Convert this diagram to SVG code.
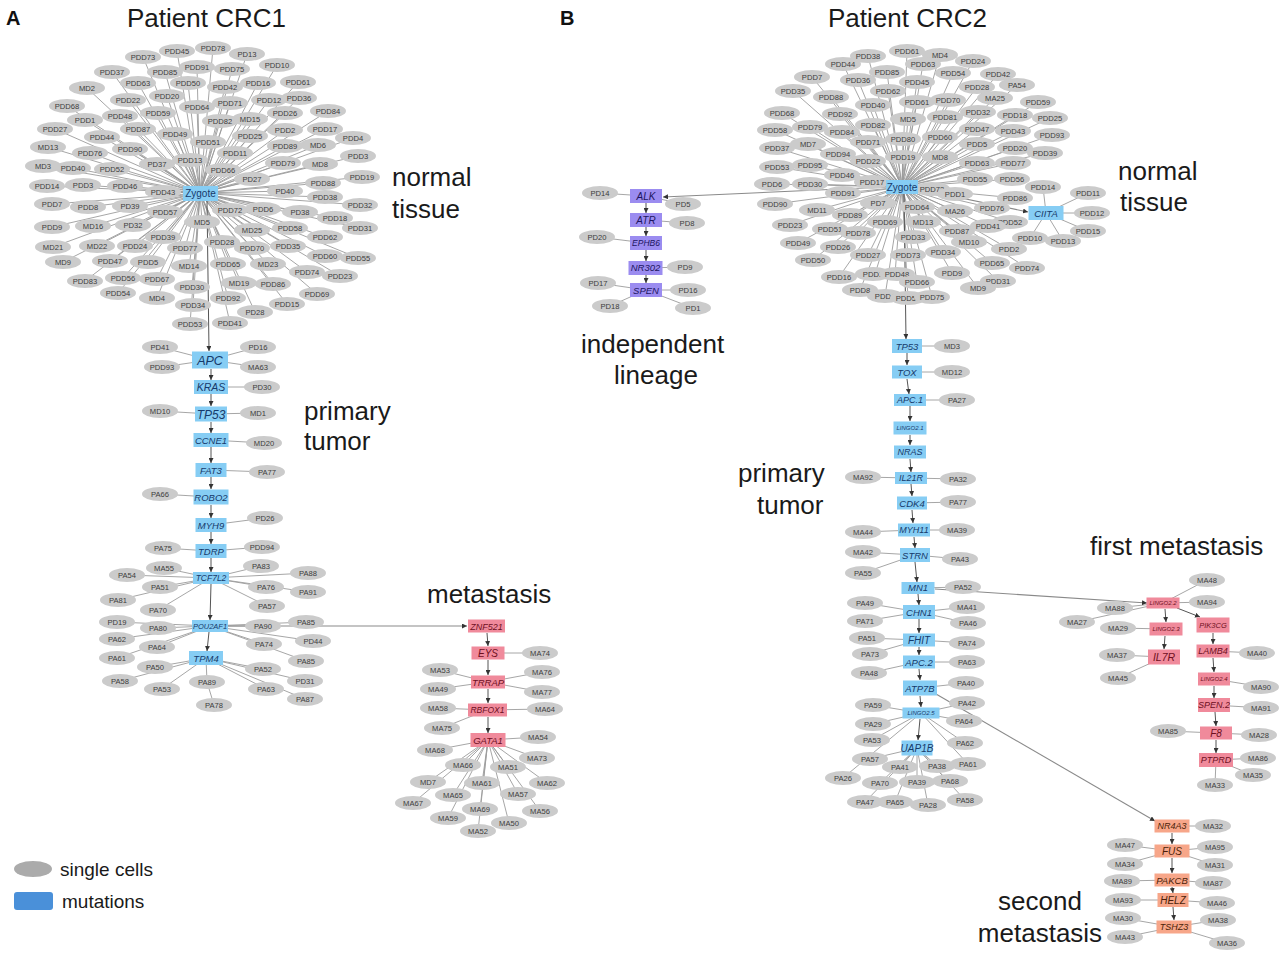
<svg xmlns="http://www.w3.org/2000/svg" width="1280" height="954" viewBox="0 0 1280 954">
<style>
.c ellipse{fill:#cbcbcb}
.c text{font-family:"Liberation Sans",Arial,sans-serif;font-size:7.6px;fill:#3c3c3c;text-anchor:middle}
.m text,.p text,.v text,.o text{font-family:"Liberation Sans",Arial,sans-serif;font-style:italic;text-anchor:middle}
.m rect{fill:#86cdf4}.m text{fill:#163a6b}
.p rect{fill:#f08a9b}.p text{fill:#6e0f1e}
.v rect{fill:#9b8cf0}.v text{fill:#1d1560}
.o rect{fill:#f7a689}.o text{fill:#4a1e08}
.z rect{fill:#86cdf4}.z text{font-family:"Liberation Sans",Arial,sans-serif;font-size:10px;fill:#163a6b;text-anchor:middle}
#connectors line{stroke:#9c9c9c;stroke-width:0.9}
#connectors .ar{stroke:#555;stroke-width:1;marker-end:url(#ah)}
#connectors .lg{stroke:#8a8a8a;stroke-width:1.1;marker-end:url(#ah)}
.lab{font-family:"Liberation Sans",Arial,sans-serif;font-size:26px;fill:#1a1a1a}
.leg{font-family:"Liberation Sans",Arial,sans-serif;font-size:19px;fill:#1a1a1a}
</style>
<defs>
<marker id="ah" viewBox="0 0 6 6" refX="6" refY="3" markerWidth="5" markerHeight="5" orient="auto" markerUnits="userSpaceOnUse"><path d="M0,0L6,3L0,6z" fill="#333"/></marker>
</defs>
<rect width="1280" height="954" fill="#fff"/>

<g id="connectors">
<!-- CRC1 cloud -->
<line x1="143" y1="57" x2="200" y2="193"/><line x1="177" y1="51" x2="200" y2="193"/><line x1="213" y1="48" x2="200" y2="193"/><line x1="247" y1="54" x2="200" y2="193"/><line x1="112" y1="72" x2="200" y2="193"/><line x1="165" y1="72" x2="200" y2="193"/><line x1="197" y1="67" x2="200" y2="193"/><line x1="232" y1="69" x2="200" y2="193"/><line x1="277" y1="65" x2="200" y2="193"/><line x1="87" y1="88" x2="200" y2="193"/><line x1="138" y1="83" x2="200" y2="193"/><line x1="188" y1="83" x2="200" y2="193"/><line x1="225" y1="87" x2="200" y2="193"/><line x1="258" y1="83" x2="200" y2="193"/><line x1="298" y1="82" x2="200" y2="193"/><line x1="67" y1="106" x2="200" y2="193"/><line x1="128" y1="100" x2="200" y2="193"/><line x1="167" y1="96" x2="200" y2="193"/><line x1="197" y1="107" x2="200" y2="193"/><line x1="230" y1="103" x2="200" y2="193"/><line x1="269" y1="100" x2="200" y2="193"/><line x1="299" y1="98" x2="200" y2="193"/><line x1="85" y1="120" x2="200" y2="193"/><line x1="120" y1="116" x2="200" y2="193"/><line x1="158" y1="113" x2="200" y2="193"/><line x1="220" y1="121" x2="200" y2="193"/><line x1="250" y1="119" x2="200" y2="193"/><line x1="285" y1="113" x2="200" y2="193"/><line x1="328" y1="111" x2="200" y2="193"/><line x1="55" y1="129" x2="200" y2="193"/><line x1="138" y1="129" x2="200" y2="193"/><line x1="175" y1="134" x2="200" y2="193"/><line x1="250" y1="136" x2="200" y2="193"/><line x1="285" y1="130" x2="200" y2="193"/><line x1="325" y1="129" x2="200" y2="193"/><line x1="102" y1="137" x2="200" y2="193"/><line x1="208" y1="142" x2="200" y2="193"/><line x1="285" y1="146" x2="200" y2="193"/><line x1="318" y1="145" x2="200" y2="193"/><line x1="353" y1="138" x2="200" y2="193"/><line x1="48" y1="147" x2="200" y2="193"/><line x1="90" y1="153" x2="200" y2="193"/><line x1="130" y1="149" x2="200" y2="193"/><line x1="235" y1="153" x2="200" y2="193"/><line x1="358" y1="156" x2="200" y2="193"/><line x1="43" y1="166" x2="200" y2="193"/><line x1="73" y1="168" x2="200" y2="193"/><line x1="112" y1="169" x2="200" y2="193"/><line x1="157" y1="164" x2="200" y2="193"/><line x1="190" y1="160" x2="200" y2="193"/><line x1="223" y1="170" x2="200" y2="193"/><line x1="283" y1="163" x2="200" y2="193"/><line x1="320" y1="164" x2="200" y2="193"/><line x1="47" y1="186" x2="200" y2="193"/><line x1="83" y1="185" x2="200" y2="193"/><line x1="125" y1="186" x2="200" y2="193"/><line x1="163" y1="192" x2="200" y2="193"/><line x1="252" y1="179" x2="200" y2="193"/><line x1="285" y1="191" x2="200" y2="193"/><line x1="323" y1="183" x2="200" y2="193"/><line x1="362" y1="177" x2="200" y2="193"/><line x1="325" y1="197" x2="200" y2="193"/><line x1="52" y1="204" x2="200" y2="193"/><line x1="88" y1="207" x2="200" y2="193"/><line x1="130" y1="206" x2="200" y2="193"/><line x1="165" y1="212" x2="200" y2="193"/><line x1="230" y1="210" x2="200" y2="193"/><line x1="263" y1="209" x2="200" y2="193"/><line x1="300" y1="212" x2="200" y2="193"/><line x1="360" y1="205" x2="200" y2="193"/><line x1="335" y1="218" x2="200" y2="193"/><line x1="360" y1="228" x2="200" y2="193"/><line x1="52" y1="227" x2="200" y2="193"/><line x1="93" y1="226" x2="200" y2="193"/><line x1="133" y1="225" x2="200" y2="193"/><line x1="202" y1="222" x2="200" y2="193"/><line x1="252" y1="230" x2="200" y2="193"/><line x1="290" y1="228" x2="200" y2="193"/><line x1="325" y1="237" x2="200" y2="193"/><line x1="163" y1="237" x2="200" y2="193"/><line x1="53" y1="247" x2="200" y2="193"/><line x1="97" y1="246" x2="200" y2="193"/><line x1="135" y1="246" x2="200" y2="193"/><line x1="185" y1="248" x2="200" y2="193"/><line x1="222" y1="242" x2="200" y2="193"/><line x1="252" y1="248" x2="200" y2="193"/><line x1="288" y1="246" x2="200" y2="193"/><line x1="325" y1="256" x2="200" y2="193"/><line x1="358" y1="258" x2="200" y2="193"/><line x1="63" y1="262" x2="200" y2="193"/><line x1="110" y1="261" x2="200" y2="193"/><line x1="148" y1="262" x2="200" y2="193"/><line x1="189" y1="266" x2="200" y2="193"/><line x1="228" y1="264" x2="200" y2="193"/><line x1="268" y1="264" x2="200" y2="193"/><line x1="307" y1="272" x2="200" y2="193"/><line x1="340" y1="276" x2="200" y2="193"/><line x1="85" y1="281" x2="200" y2="193"/><line x1="123" y1="278" x2="200" y2="193"/><line x1="157" y1="279" x2="200" y2="193"/><line x1="192" y1="287" x2="200" y2="193"/><line x1="239" y1="283" x2="200" y2="193"/><line x1="273" y1="284" x2="200" y2="193"/><line x1="317" y1="294" x2="200" y2="193"/><line x1="118" y1="293" x2="200" y2="193"/><line x1="157" y1="298" x2="200" y2="193"/><line x1="228" y1="298" x2="200" y2="193"/><line x1="287" y1="304" x2="200" y2="193"/><line x1="193" y1="305" x2="200" y2="193"/><line x1="255" y1="312" x2="200" y2="193"/><line x1="190" y1="324" x2="200" y2="193"/><line x1="230" y1="323" x2="200" y2="193"/>
<!-- CRC1 chain cells -->
<line x1="160" y1="347" x2="210" y2="360"/><line x1="258" y1="347" x2="210" y2="360"/><line x1="162" y1="367" x2="210" y2="360"/><line x1="258" y1="367" x2="210" y2="360"/>
<line x1="262" y1="387" x2="211" y2="387"/><line x1="160" y1="411" x2="211" y2="414"/><line x1="258" y1="413" x2="211" y2="414"/><line x1="264" y1="443" x2="211" y2="440"/><line x1="267" y1="472" x2="211" y2="470"/><line x1="160" y1="494" x2="211" y2="497"/><line x1="265" y1="518" x2="211" y2="525"/><line x1="163" y1="548" x2="211" y2="551"/><line x1="262" y1="547" x2="211" y2="551"/>
<line x1="164" y1="568" x2="211" y2="578"/><line x1="261" y1="566" x2="211" y2="578"/><line x1="127" y1="575" x2="211" y2="578"/><line x1="308" y1="573" x2="211" y2="578"/><line x1="160" y1="587" x2="211" y2="578"/><line x1="266" y1="587" x2="211" y2="578"/><line x1="308" y1="592" x2="211" y2="578"/><line x1="118" y1="600" x2="211" y2="578"/><line x1="267" y1="606" x2="211" y2="578"/><line x1="158" y1="610" x2="211" y2="578"/>
<line x1="117" y1="622" x2="210" y2="626"/><line x1="158" y1="628" x2="210" y2="626"/><line x1="263" y1="626" x2="210" y2="626"/><line x1="306" y1="622" x2="210" y2="626"/><line x1="313" y1="641" x2="210" y2="626"/><line x1="117" y1="639" x2="210" y2="626"/><line x1="157" y1="647" x2="210" y2="626"/><line x1="264" y1="644" x2="210" y2="626"/><line x1="117" y1="658" x2="210" y2="626"/><line x1="306" y1="661" x2="210" y2="626"/>
<line x1="155" y1="667" x2="206" y2="658"/><line x1="263" y1="669" x2="206" y2="658"/><line x1="120" y1="681" x2="206" y2="658"/><line x1="162" y1="689" x2="206" y2="658"/><line x1="207" y1="682" x2="206" y2="658"/><line x1="305" y1="681" x2="206" y2="658"/><line x1="266" y1="689" x2="206" y2="658"/><line x1="305" y1="699" x2="206" y2="658"/><line x1="214" y1="705" x2="207" y2="682"/>
<!-- CRC1 metastasis cells -->
<line x1="540" y1="653" x2="488" y2="653"/><line x1="440" y1="670" x2="488" y2="682"/><line x1="542" y1="672" x2="488" y2="682"/><line x1="438" y1="689" x2="488" y2="682"/><line x1="542" y1="692" x2="488" y2="682"/><line x1="438" y1="708" x2="487" y2="710"/><line x1="545" y1="709" x2="487" y2="710"/><line x1="442" y1="728" x2="487" y2="710"/>
<line x1="538" y1="737" x2="488" y2="740"/><line x1="435" y1="750" x2="488" y2="740"/><line x1="463" y1="765" x2="488" y2="740"/><line x1="537" y1="758" x2="488" y2="740"/><line x1="508" y1="767" x2="488" y2="740"/><line x1="428" y1="782" x2="488" y2="740"/><line x1="482" y1="783" x2="488" y2="740"/><line x1="547" y1="783" x2="488" y2="740"/><line x1="453" y1="795" x2="488" y2="740"/><line x1="518" y1="794" x2="488" y2="740"/><line x1="413" y1="803" x2="488" y2="740"/><line x1="480" y1="809" x2="488" y2="740"/><line x1="540" y1="811" x2="488" y2="740"/><line x1="448" y1="818" x2="488" y2="740"/><line x1="478" y1="831" x2="488" y2="740"/><line x1="509" y1="823" x2="488" y2="740"/>
<!-- CRC1 arrows -->
<line class="ar" x1="207" y1="201" x2="209" y2="351"/>
<line class="ar" x1="211" y1="369" x2="211" y2="380"/><line class="ar" x1="211" y1="394" x2="211" y2="406"/><line class="ar" x1="211" y1="422" x2="211" y2="433"/><line class="ar" x1="211" y1="447" x2="211" y2="463"/><line class="ar" x1="211" y1="477" x2="211" y2="489"/><line class="ar" x1="211" y1="505" x2="211" y2="518"/><line class="ar" x1="211" y1="532" x2="211" y2="544"/><line class="ar" x1="211" y1="558" x2="211" y2="572"/><line class="ar" x1="211" y1="584" x2="210" y2="620"/><line class="ar" x1="209" y1="632" x2="207" y2="651"/>
<line class="lg" x1="228" y1="626" x2="467" y2="626"/>
<line class="ar" x1="487" y1="633" x2="488" y2="646"/><line class="ar" x1="488" y1="660" x2="488" y2="675"/><line class="ar" x1="488" y1="689" x2="488" y2="703"/><line class="ar" x1="488" y1="717" x2="488" y2="733"/>

<!-- CRC2 cloud -->
<line x1="907" y1="51" x2="902" y2="187"/><line x1="940" y1="55" x2="902" y2="187"/><line x1="868" y1="56" x2="902" y2="187"/><line x1="973" y1="61" x2="902" y2="187"/><line x1="843" y1="64" x2="902" y2="187"/><line x1="923" y1="64" x2="902" y2="187"/><line x1="887" y1="72" x2="902" y2="187"/><line x1="953" y1="73" x2="902" y2="187"/><line x1="998" y1="74" x2="902" y2="187"/><line x1="812" y1="77" x2="902" y2="187"/><line x1="858" y1="80" x2="902" y2="187"/><line x1="917" y1="82" x2="902" y2="187"/><line x1="977" y1="87" x2="902" y2="187"/><line x1="1017" y1="85" x2="902" y2="187"/><line x1="793" y1="91" x2="902" y2="187"/><line x1="888" y1="91" x2="902" y2="187"/><line x1="831" y1="97" x2="902" y2="187"/><line x1="948" y1="100" x2="902" y2="187"/><line x1="995" y1="98" x2="902" y2="187"/><line x1="1038" y1="102" x2="902" y2="187"/><line x1="873" y1="105" x2="902" y2="187"/><line x1="917" y1="102" x2="902" y2="187"/><line x1="782" y1="113" x2="902" y2="187"/><line x1="840" y1="114" x2="902" y2="187"/><line x1="978" y1="112" x2="902" y2="187"/><line x1="1015" y1="115" x2="902" y2="187"/><line x1="908" y1="119" x2="902" y2="187"/><line x1="945" y1="117" x2="902" y2="187"/><line x1="1050" y1="118" x2="902" y2="187"/><line x1="775" y1="130" x2="902" y2="187"/><line x1="810" y1="127" x2="902" y2="187"/><line x1="873" y1="125" x2="902" y2="187"/><line x1="842" y1="132" x2="902" y2="187"/><line x1="977" y1="129" x2="902" y2="187"/><line x1="1013" y1="131" x2="902" y2="187"/><line x1="1052" y1="135" x2="902" y2="187"/><line x1="777" y1="148" x2="902" y2="187"/><line x1="808" y1="144" x2="902" y2="187"/><line x1="868" y1="142" x2="902" y2="187"/><line x1="903" y1="139" x2="902" y2="187"/><line x1="940" y1="137" x2="902" y2="187"/><line x1="977" y1="144" x2="902" y2="187"/><line x1="1015" y1="148" x2="902" y2="187"/><line x1="1045" y1="153" x2="902" y2="187"/><line x1="838" y1="154" x2="902" y2="187"/><line x1="903" y1="157" x2="902" y2="187"/><line x1="940" y1="157" x2="902" y2="187"/><line x1="977" y1="163" x2="902" y2="187"/><line x1="1013" y1="163" x2="902" y2="187"/><line x1="777" y1="167" x2="902" y2="187"/><line x1="810" y1="165" x2="902" y2="187"/><line x1="868" y1="161" x2="902" y2="187"/><line x1="842" y1="175" x2="902" y2="187"/><line x1="975" y1="179" x2="902" y2="187"/><line x1="1012" y1="179" x2="902" y2="187"/><line x1="872" y1="182" x2="902" y2="187"/><line x1="928" y1="189" x2="902" y2="187"/><line x1="772" y1="184" x2="902" y2="187"/><line x1="810" y1="184" x2="902" y2="187"/><line x1="843" y1="193" x2="902" y2="187"/><line x1="953" y1="193" x2="902" y2="187"/><line x1="1015" y1="198" x2="902" y2="187"/><line x1="775" y1="204" x2="902" y2="187"/><line x1="817" y1="210" x2="902" y2="187"/><line x1="878" y1="203" x2="902" y2="187"/><line x1="917" y1="207" x2="902" y2="187"/><line x1="955" y1="211" x2="902" y2="187"/><line x1="992" y1="208" x2="902" y2="187"/><line x1="850" y1="215" x2="902" y2="187"/><line x1="1010" y1="222" x2="902" y2="187"/><line x1="790" y1="225" x2="902" y2="187"/><line x1="885" y1="222" x2="902" y2="187"/><line x1="923" y1="222" x2="902" y2="187"/><line x1="830" y1="229" x2="902" y2="187"/><line x1="858" y1="233" x2="902" y2="187"/><line x1="957" y1="231" x2="902" y2="187"/><line x1="988" y1="226" x2="902" y2="187"/><line x1="798" y1="243" x2="902" y2="187"/><line x1="913" y1="237" x2="902" y2="187"/><line x1="969" y1="242" x2="902" y2="187"/><line x1="1009" y1="249" x2="902" y2="187"/><line x1="838" y1="247" x2="902" y2="187"/><line x1="813" y1="260" x2="902" y2="187"/><line x1="868" y1="255" x2="902" y2="187"/><line x1="908" y1="255" x2="902" y2="187"/><line x1="943" y1="252" x2="902" y2="187"/><line x1="992" y1="263" x2="902" y2="187"/><line x1="1027" y1="268" x2="902" y2="187"/><line x1="839" y1="277" x2="902" y2="187"/><line x1="875" y1="274" x2="902" y2="187"/><line x1="895" y1="274" x2="902" y2="187"/><line x1="917" y1="282" x2="902" y2="187"/><line x1="952" y1="273" x2="902" y2="187"/><line x1="998" y1="281" x2="902" y2="187"/><line x1="860" y1="290" x2="902" y2="187"/><line x1="885" y1="296" x2="902" y2="187"/><line x1="908" y1="298" x2="902" y2="187"/><line x1="932" y1="297" x2="902" y2="187"/><line x1="978" y1="288" x2="902" y2="187"/>
<!-- CIITA cells -->
<line x1="1043" y1="187" x2="1046" y2="213"/><line x1="1088" y1="193" x2="1046" y2="213"/><line x1="1092" y1="213" x2="1046" y2="213"/><line x1="1088" y1="231" x2="1046" y2="213"/><line x1="1063" y1="241" x2="1046" y2="213"/><line x1="1030" y1="238" x2="1046" y2="213"/>
<!-- lineage cells -->
<line x1="600" y1="193" x2="646" y2="196"/><line x1="683" y1="204" x2="646" y2="196"/><line x1="687" y1="223" x2="646" y2="220"/><line x1="597" y1="237" x2="646" y2="243"/><line x1="685" y1="267" x2="645" y2="268"/><line x1="598" y1="283" x2="646" y2="290"/><line x1="688" y1="290" x2="646" y2="290"/><line x1="610" y1="306" x2="646" y2="290"/><line x1="693" y1="308" x2="646" y2="290"/>
<!-- CRC2 chain cells -->
<line x1="952" y1="346" x2="907" y2="346"/><line x1="952" y1="372" x2="907" y2="372"/><line x1="957" y1="400" x2="910" y2="400"/><line x1="863" y1="477" x2="911" y2="478"/><line x1="958" y1="479" x2="911" y2="478"/><line x1="958" y1="502" x2="912" y2="503"/><line x1="863" y1="532" x2="914" y2="530"/><line x1="957" y1="530" x2="914" y2="530"/><line x1="863" y1="552" x2="915" y2="555"/><line x1="960" y1="559" x2="915" y2="555"/><line x1="863" y1="573" x2="915" y2="555"/>
<line x1="963" y1="587" x2="918" y2="588"/><line x1="865" y1="603" x2="919" y2="612"/><line x1="967" y1="607" x2="919" y2="612"/><line x1="865" y1="621" x2="919" y2="612"/><line x1="968" y1="623" x2="919" y2="612"/><line x1="867" y1="638" x2="919" y2="640"/><line x1="967" y1="643" x2="919" y2="640"/><line x1="870" y1="654" x2="919" y2="640"/><line x1="967" y1="662" x2="919" y2="662"/><line x1="869" y1="673" x2="919" y2="662"/><line x1="966" y1="683" x2="920" y2="688"/>
<line x1="873" y1="705" x2="921" y2="713"/><line x1="967" y1="703" x2="921" y2="713"/><line x1="964" y1="721" x2="921" y2="713"/><line x1="873" y1="724" x2="921" y2="713"/><line x1="872" y1="740" x2="921" y2="713"/><line x1="965" y1="743" x2="921" y2="713"/><line x1="968" y1="764" x2="921" y2="713"/><line x1="843" y1="778" x2="921" y2="713"/>
<line x1="870" y1="759" x2="917" y2="748"/><line x1="900" y1="767" x2="917" y2="748"/><line x1="937" y1="766" x2="917" y2="748"/><line x1="880" y1="783" x2="917" y2="748"/><line x1="917" y1="782" x2="917" y2="748"/><line x1="948" y1="781" x2="917" y2="748"/><line x1="865" y1="802" x2="917" y2="748"/><line x1="895" y1="802" x2="917" y2="748"/><line x1="928" y1="805" x2="917" y2="748"/><line x1="965" y1="800" x2="917" y2="748"/>
<!-- first metastasis cells -->
<line x1="1207" y1="580" x2="1163" y2="603"/><line x1="1207" y1="602" x2="1163" y2="603"/><line x1="1115" y1="608" x2="1163" y2="603"/><line x1="1077" y1="622" x2="1163" y2="603"/><line x1="1118" y1="628" x2="1166" y2="629"/><line x1="1117" y1="655" x2="1164" y2="657"/><line x1="1118" y1="678" x2="1164" y2="657"/><line x1="1257" y1="653" x2="1213" y2="651"/><line x1="1263" y1="687" x2="1214" y2="679"/><line x1="1263" y1="708" x2="1214" y2="705"/><line x1="1168" y1="731" x2="1216" y2="733"/><line x1="1260" y1="735" x2="1216" y2="733"/><line x1="1258" y1="758" x2="1216" y2="760"/><line x1="1253" y1="775" x2="1216" y2="760"/><line x1="1215" y1="785" x2="1216" y2="760"/>
<!-- second metastasis cells -->
<line x1="1213" y1="826" x2="1172" y2="826"/><line x1="1125" y1="845" x2="1172" y2="851"/><line x1="1215" y1="847" x2="1172" y2="851"/><line x1="1125" y1="864" x2="1172" y2="851"/><line x1="1215" y1="865" x2="1172" y2="851"/><line x1="1122" y1="881" x2="1172" y2="880"/><line x1="1213" y1="883" x2="1172" y2="880"/><line x1="1123" y1="900" x2="1173" y2="900"/><line x1="1217" y1="903" x2="1173" y2="900"/><line x1="1123" y1="918" x2="1174" y2="927"/><line x1="1218" y1="920" x2="1174" y2="927"/><line x1="1125" y1="937" x2="1174" y2="927"/><line x1="1227" y1="943" x2="1174" y2="927"/>
<!-- CRC2 arrows -->
<line class="lg" x1="886" y1="187" x2="663" y2="197"/>
<line class="lg" x1="918" y1="189" x2="1028" y2="212"/>
<line class="ar" x1="904" y1="194" x2="906" y2="339"/>
<line class="ar" x1="646" y1="203" x2="646" y2="213"/><line class="ar" x1="646" y1="227" x2="646" y2="236"/><line class="ar" x1="646" y1="250" x2="646" y2="261"/><line class="ar" x1="646" y1="275" x2="646" y2="283"/>
<line class="ar" x1="907" y1="353" x2="907" y2="365"/><line class="ar" x1="907" y1="379" x2="909" y2="394"/><line class="ar" x1="910" y1="406" x2="910" y2="421"/><line class="ar" x1="910" y1="435" x2="910" y2="445"/><line class="ar" x1="910" y1="459" x2="911" y2="472"/><line class="ar" x1="911" y1="484" x2="912" y2="496"/><line class="ar" x1="912" y1="510" x2="913" y2="523"/><line class="ar" x1="914" y1="537" x2="915" y2="548"/><line class="ar" x1="915" y1="562" x2="917" y2="582"/><line class="ar" x1="918" y1="594" x2="919" y2="605"/><line class="ar" x1="919" y1="619" x2="919" y2="633"/><line class="ar" x1="919" y1="647" x2="919" y2="655"/><line class="ar" x1="919" y1="669" x2="920" y2="680"/><line class="ar" x1="920" y1="696" x2="921" y2="707"/><line class="ar" x1="920" y1="719" x2="918" y2="740"/>
<line class="lg" x1="935" y1="589" x2="1147" y2="603"/>
<line class="lg" x1="936" y1="694" x2="1155" y2="821"/>
<line class="ar" x1="1165" y1="609" x2="1166" y2="622"/><line class="ar" x1="1165" y1="636" x2="1164" y2="649"/><line class="ar" x1="1177" y1="608" x2="1200" y2="617"/><line class="ar" x1="1213" y1="633" x2="1213" y2="644"/><line class="ar" x1="1213" y1="658" x2="1214" y2="672"/><line class="ar" x1="1214" y1="686" x2="1214" y2="698"/><line class="ar" x1="1215" y1="712" x2="1216" y2="726"/><line class="ar" x1="1216" y1="740" x2="1216" y2="753"/>
<line class="ar" x1="1172" y1="833" x2="1172" y2="844"/><line class="ar" x1="1172" y1="858" x2="1172" y2="873"/><line class="ar" x1="1172" y1="887" x2="1173" y2="893"/><line class="ar" x1="1173" y1="907" x2="1174" y2="920"/>
</g>

<!-- ===== CRC1 cloud cells ===== -->
<g id="a-PDD73" class="c"><ellipse cx="143" cy="57" rx="18" ry="7"/><text x="143" y="59.7">PDD73</text></g>
<g id="a-PDD45" class="c"><ellipse cx="177" cy="51" rx="18" ry="7"/><text x="177" y="53.7">PDD45</text></g>
<g id="a-PDD78" class="c"><ellipse cx="213" cy="48" rx="18" ry="7"/><text x="213" y="50.7">PDD78</text></g>
<g id="a-PD13" class="c"><ellipse cx="247" cy="54" rx="18" ry="7"/><text x="247" y="56.7">PD13</text></g>
<g id="a-PDD37" class="c"><ellipse cx="112" cy="72" rx="18" ry="7"/><text x="112" y="74.7">PDD37</text></g>
<g id="a-PDD85" class="c"><ellipse cx="165" cy="72" rx="18" ry="7"/><text x="165" y="74.7">PDD85</text></g>
<g id="a-PDD91" class="c"><ellipse cx="197" cy="67" rx="18" ry="7"/><text x="197" y="69.7">PDD91</text></g>
<g id="a-PDD75" class="c"><ellipse cx="232" cy="69" rx="18" ry="7"/><text x="232" y="71.7">PDD75</text></g>
<g id="a-PDD10" class="c"><ellipse cx="277" cy="65" rx="18" ry="7"/><text x="277" y="67.7">PDD10</text></g>
<g id="a-MD2" class="c"><ellipse cx="87" cy="88" rx="18" ry="7"/><text x="87" y="90.7">MD2</text></g>
<g id="a-PDD63" class="c"><ellipse cx="138" cy="83" rx="18" ry="7"/><text x="138" y="85.7">PDD63</text></g>
<g id="a-PDD50" class="c"><ellipse cx="188" cy="83" rx="18" ry="7"/><text x="188" y="85.7">PDD50</text></g>
<g id="a-PDD42" class="c"><ellipse cx="225" cy="87" rx="18" ry="7"/><text x="225" y="89.7">PDD42</text></g>
<g id="a-PDD16" class="c"><ellipse cx="258" cy="83" rx="18" ry="7"/><text x="258" y="85.7">PDD16</text></g>
<g id="a-PDD61" class="c"><ellipse cx="298" cy="82" rx="18" ry="7"/><text x="298" y="84.7">PDD61</text></g>
<g id="a-PDD68" class="c"><ellipse cx="67" cy="106" rx="18" ry="7"/><text x="67" y="108.7">PDD68</text></g>
<g id="a-PDD22" class="c"><ellipse cx="128" cy="100" rx="18" ry="7"/><text x="128" y="102.7">PDD22</text></g>
<g id="a-PDD20" class="c"><ellipse cx="167" cy="96" rx="18" ry="7"/><text x="167" y="98.7">PDD20</text></g>
<g id="a-PDD64" class="c"><ellipse cx="197" cy="107" rx="18" ry="7"/><text x="197" y="109.7">PDD64</text></g>
<g id="a-PDD71" class="c"><ellipse cx="230" cy="103" rx="18" ry="7"/><text x="230" y="105.7">PDD71</text></g>
<g id="a-PDD12" class="c"><ellipse cx="269" cy="100" rx="18" ry="7"/><text x="269" y="102.7">PDD12</text></g>
<g id="a-PDD36" class="c"><ellipse cx="299" cy="98" rx="18" ry="7"/><text x="299" y="100.7">PDD36</text></g>
<g id="a-PDD1" class="c"><ellipse cx="85" cy="120" rx="18" ry="7"/><text x="85" y="122.7">PDD1</text></g>
<g id="a-PDD48" class="c"><ellipse cx="120" cy="116" rx="18" ry="7"/><text x="120" y="118.7">PDD48</text></g>
<g id="a-PDD59" class="c"><ellipse cx="158" cy="113" rx="18" ry="7"/><text x="158" y="115.7">PDD59</text></g>
<g id="a-PDD82" class="c"><ellipse cx="220" cy="121" rx="18" ry="7"/><text x="220" y="123.7">PDD82</text></g>
<g id="a-MD15" class="c"><ellipse cx="250" cy="119" rx="18" ry="7"/><text x="250" y="121.7">MD15</text></g>
<g id="a-PDD26" class="c"><ellipse cx="285" cy="113" rx="18" ry="7"/><text x="285" y="115.7">PDD26</text></g>
<g id="a-PDD84" class="c"><ellipse cx="328" cy="111" rx="18" ry="7"/><text x="328" y="113.7">PDD84</text></g>
<g id="a-PDD27" class="c"><ellipse cx="55" cy="129" rx="18" ry="7"/><text x="55" y="131.7">PDD27</text></g>
<g id="a-PDD87" class="c"><ellipse cx="138" cy="129" rx="18" ry="7"/><text x="138" y="131.7">PDD87</text></g>
<g id="a-PDD49" class="c"><ellipse cx="175" cy="134" rx="18" ry="7"/><text x="175" y="136.7">PDD49</text></g>
<g id="a-PDD25" class="c"><ellipse cx="250" cy="136" rx="18" ry="7"/><text x="250" y="138.7">PDD25</text></g>
<g id="a-PDD2" class="c"><ellipse cx="285" cy="130" rx="18" ry="7"/><text x="285" y="132.7">PDD2</text></g>
<g id="a-PDD17" class="c"><ellipse cx="325" cy="129" rx="18" ry="7"/><text x="325" y="131.7">PDD17</text></g>
<g id="a-PDD44" class="c"><ellipse cx="102" cy="137" rx="18" ry="7"/><text x="102" y="139.7">PDD44</text></g>
<g id="a-PDD51" class="c"><ellipse cx="208" cy="142" rx="18" ry="7"/><text x="208" y="144.7">PDD51</text></g>
<g id="a-PDD89" class="c"><ellipse cx="285" cy="146" rx="18" ry="7"/><text x="285" y="148.7">PDD89</text></g>
<g id="a-MD6" class="c"><ellipse cx="318" cy="145" rx="18" ry="7"/><text x="318" y="147.7">MD6</text></g>
<g id="a-PDD4" class="c"><ellipse cx="353" cy="138" rx="18" ry="7"/><text x="353" y="140.7">PDD4</text></g>
<g id="a-MD13" class="c"><ellipse cx="48" cy="147" rx="18" ry="7"/><text x="48" y="149.7">MD13</text></g>
<g id="a-PDD76" class="c"><ellipse cx="90" cy="153" rx="18" ry="7"/><text x="90" y="155.7">PDD76</text></g>
<g id="a-PDD90" class="c"><ellipse cx="130" cy="149" rx="18" ry="7"/><text x="130" y="151.7">PDD90</text></g>
<g id="a-PDD11" class="c"><ellipse cx="235" cy="153" rx="18" ry="7"/><text x="235" y="155.7">PDD11</text></g>
<g id="a-PDD3-1" class="c"><ellipse cx="358" cy="156" rx="18" ry="7"/><text x="358" y="158.7">PDD3</text></g>
<g id="a-MD3" class="c"><ellipse cx="43" cy="166" rx="18" ry="7"/><text x="43" y="168.7">MD3</text></g>
<g id="a-PDD40" class="c"><ellipse cx="73" cy="168" rx="18" ry="7"/><text x="73" y="170.7">PDD40</text></g>
<g id="a-PDD52" class="c"><ellipse cx="112" cy="169" rx="18" ry="7"/><text x="112" y="171.7">PDD52</text></g>
<g id="a-PD37" class="c"><ellipse cx="157" cy="164" rx="18" ry="7"/><text x="157" y="166.7">PD37</text></g>
<g id="a-PDD13" class="c"><ellipse cx="190" cy="160" rx="18" ry="7"/><text x="190" y="162.7">PDD13</text></g>
<g id="a-PDD66" class="c"><ellipse cx="223" cy="170" rx="18" ry="7"/><text x="223" y="172.7">PDD66</text></g>
<g id="a-PDD79" class="c"><ellipse cx="283" cy="163" rx="18" ry="7"/><text x="283" y="165.7">PDD79</text></g>
<g id="a-MD8" class="c"><ellipse cx="320" cy="164" rx="18" ry="7"/><text x="320" y="166.7">MD8</text></g>
<g id="a-PDD14" class="c"><ellipse cx="47" cy="186" rx="18" ry="7"/><text x="47" y="188.7">PDD14</text></g>
<g id="a-PDD3-2" class="c"><ellipse cx="83" cy="185" rx="18" ry="7"/><text x="83" y="187.7">PDD3</text></g>
<g id="a-PDD46" class="c"><ellipse cx="125" cy="186" rx="18" ry="7"/><text x="125" y="188.7">PDD46</text></g>
<g id="a-PDD43" class="c"><ellipse cx="163" cy="192" rx="18" ry="7"/><text x="163" y="194.7">PDD43</text></g>
<g id="a-PD27" class="c"><ellipse cx="252" cy="179" rx="18" ry="7"/><text x="252" y="181.7">PD27</text></g>
<g id="a-PD40" class="c"><ellipse cx="285" cy="191" rx="18" ry="7"/><text x="285" y="193.7">PD40</text></g>
<g id="a-PDD88" class="c"><ellipse cx="323" cy="183" rx="18" ry="7"/><text x="323" y="185.7">PDD88</text></g>
<g id="a-PDD19" class="c"><ellipse cx="362" cy="177" rx="18" ry="7"/><text x="362" y="179.7">PDD19</text></g>
<g id="a-PDD38" class="c"><ellipse cx="325" cy="197" rx="18" ry="7"/><text x="325" y="199.7">PDD38</text></g>
<g id="a-PDD7" class="c"><ellipse cx="52" cy="204" rx="18" ry="7"/><text x="52" y="206.7">PDD7</text></g>
<g id="a-PDD8" class="c"><ellipse cx="88" cy="207" rx="18" ry="7"/><text x="88" y="209.7">PDD8</text></g>
<g id="a-PD39" class="c"><ellipse cx="130" cy="206" rx="18" ry="7"/><text x="130" y="208.7">PD39</text></g>
<g id="a-PDD57" class="c"><ellipse cx="165" cy="212" rx="18" ry="7"/><text x="165" y="214.7">PDD57</text></g>
<g id="a-PDD72" class="c"><ellipse cx="230" cy="210" rx="18" ry="7"/><text x="230" y="212.7">PDD72</text></g>
<g id="a-PDD6" class="c"><ellipse cx="263" cy="209" rx="18" ry="7"/><text x="263" y="211.7">PDD6</text></g>
<g id="a-PD38" class="c"><ellipse cx="300" cy="212" rx="18" ry="7"/><text x="300" y="214.7">PD38</text></g>
<g id="a-PDD32" class="c"><ellipse cx="360" cy="205" rx="18" ry="7"/><text x="360" y="207.7">PDD32</text></g>
<g id="a-PDD18" class="c"><ellipse cx="335" cy="218" rx="18" ry="7"/><text x="335" y="220.7">PDD18</text></g>
<g id="a-PDD31" class="c"><ellipse cx="360" cy="228" rx="18" ry="7"/><text x="360" y="230.7">PDD31</text></g>
<g id="a-PDD9" class="c"><ellipse cx="52" cy="227" rx="18" ry="7"/><text x="52" y="229.7">PDD9</text></g>
<g id="a-MD16" class="c"><ellipse cx="93" cy="226" rx="18" ry="7"/><text x="93" y="228.7">MD16</text></g>
<g id="a-PD32" class="c"><ellipse cx="133" cy="225" rx="18" ry="7"/><text x="133" y="227.7">PD32</text></g>
<g id="a-MD5" class="c"><ellipse cx="202" cy="222" rx="18" ry="7"/><text x="202" y="224.7">MD5</text></g>
<g id="a-MD25" class="c"><ellipse cx="252" cy="230" rx="18" ry="7"/><text x="252" y="232.7">MD25</text></g>
<g id="a-PDD58" class="c"><ellipse cx="290" cy="228" rx="18" ry="7"/><text x="290" y="230.7">PDD58</text></g>
<g id="a-PDD62" class="c"><ellipse cx="325" cy="237" rx="18" ry="7"/><text x="325" y="239.7">PDD62</text></g>
<g id="a-PDD39" class="c"><ellipse cx="163" cy="237" rx="18" ry="7"/><text x="163" y="239.7">PDD39</text></g>
<g id="a-MD21" class="c"><ellipse cx="53" cy="247" rx="18" ry="7"/><text x="53" y="249.7">MD21</text></g>
<g id="a-MD22" class="c"><ellipse cx="97" cy="246" rx="18" ry="7"/><text x="97" y="248.7">MD22</text></g>
<g id="a-PDD24" class="c"><ellipse cx="135" cy="246" rx="18" ry="7"/><text x="135" y="248.7">PDD24</text></g>
<g id="a-PDD77" class="c"><ellipse cx="185" cy="248" rx="18" ry="7"/><text x="185" y="250.7">PDD77</text></g>
<g id="a-PDD28" class="c"><ellipse cx="222" cy="242" rx="18" ry="7"/><text x="222" y="244.7">PDD28</text></g>
<g id="a-PDD70" class="c"><ellipse cx="252" cy="248" rx="18" ry="7"/><text x="252" y="250.7">PDD70</text></g>
<g id="a-PDD35" class="c"><ellipse cx="288" cy="246" rx="18" ry="7"/><text x="288" y="248.7">PDD35</text></g>
<g id="a-PDD60" class="c"><ellipse cx="325" cy="256" rx="18" ry="7"/><text x="325" y="258.7">PDD60</text></g>
<g id="a-PDD55" class="c"><ellipse cx="358" cy="258" rx="18" ry="7"/><text x="358" y="260.7">PDD55</text></g>
<g id="a-MD9" class="c"><ellipse cx="63" cy="262" rx="18" ry="7"/><text x="63" y="264.7">MD9</text></g>
<g id="a-PDD47" class="c"><ellipse cx="110" cy="261" rx="18" ry="7"/><text x="110" y="263.7">PDD47</text></g>
<g id="a-PDD5" class="c"><ellipse cx="148" cy="262" rx="18" ry="7"/><text x="148" y="264.7">PDD5</text></g>
<g id="a-MD14" class="c"><ellipse cx="189" cy="266" rx="18" ry="7"/><text x="189" y="268.7">MD14</text></g>
<g id="a-PDD65" class="c"><ellipse cx="228" cy="264" rx="18" ry="7"/><text x="228" y="266.7">PDD65</text></g>
<g id="a-MD23" class="c"><ellipse cx="268" cy="264" rx="18" ry="7"/><text x="268" y="266.7">MD23</text></g>
<g id="a-PDD74" class="c"><ellipse cx="307" cy="272" rx="18" ry="7"/><text x="307" y="274.7">PDD74</text></g>
<g id="a-PDD23" class="c"><ellipse cx="340" cy="276" rx="18" ry="7"/><text x="340" y="278.7">PDD23</text></g>
<g id="a-PDD83" class="c"><ellipse cx="85" cy="281" rx="18" ry="7"/><text x="85" y="283.7">PDD83</text></g>
<g id="a-PDD56" class="c"><ellipse cx="123" cy="278" rx="18" ry="7"/><text x="123" y="280.7">PDD56</text></g>
<g id="a-PDD67" class="c"><ellipse cx="157" cy="279" rx="18" ry="7"/><text x="157" y="281.7">PDD67</text></g>
<g id="a-PDD30" class="c"><ellipse cx="192" cy="287" rx="18" ry="7"/><text x="192" y="289.7">PDD30</text></g>
<g id="a-MD19" class="c"><ellipse cx="239" cy="283" rx="18" ry="7"/><text x="239" y="285.7">MD19</text></g>
<g id="a-PDD86" class="c"><ellipse cx="273" cy="284" rx="18" ry="7"/><text x="273" y="286.7">PDD86</text></g>
<g id="a-PDD69" class="c"><ellipse cx="317" cy="294" rx="18" ry="7"/><text x="317" y="296.7">PDD69</text></g>
<g id="a-PDD54" class="c"><ellipse cx="118" cy="293" rx="18" ry="7"/><text x="118" y="295.7">PDD54</text></g>
<g id="a-MD4" class="c"><ellipse cx="157" cy="298" rx="18" ry="7"/><text x="157" y="300.7">MD4</text></g>
<g id="a-PDD92" class="c"><ellipse cx="228" cy="298" rx="18" ry="7"/><text x="228" y="300.7">PDD92</text></g>
<g id="a-PDD15" class="c"><ellipse cx="287" cy="304" rx="18" ry="7"/><text x="287" y="306.7">PDD15</text></g>
<g id="a-PDD34" class="c"><ellipse cx="193" cy="305" rx="18" ry="7"/><text x="193" y="307.7">PDD34</text></g>
<g id="a-PD28" class="c"><ellipse cx="255" cy="312" rx="18" ry="7"/><text x="255" y="314.7">PD28</text></g>
<g id="a-PDD53" class="c"><ellipse cx="190" cy="324" rx="18" ry="7"/><text x="190" y="326.7">PDD53</text></g>
<g id="a-PDD41" class="c"><ellipse cx="230" cy="323" rx="18" ry="7"/><text x="230" y="325.7">PDD41</text></g>

<g id="a-Zygote" class="z"><rect x="183" y="186" width="35" height="15"/><text x="200.5" y="197">Zygote</text></g>

<!-- CRC1 chain cells -->
<g id="a-PD41" class="c"><ellipse cx="160" cy="347" rx="18" ry="7"/><text x="160" y="349.7">PD41</text></g>
<g id="a-PD16" class="c"><ellipse cx="258" cy="347" rx="18" ry="7"/><text x="258" y="349.7">PD16</text></g>
<g id="a-PDD93" class="c"><ellipse cx="162" cy="367" rx="18" ry="7"/><text x="162" y="369.7">PDD93</text></g>
<g id="a-MA63" class="c"><ellipse cx="258" cy="367" rx="18" ry="7"/><text x="258" y="369.7">MA63</text></g>
<g id="a-PD30" class="c"><ellipse cx="262" cy="387" rx="18" ry="7"/><text x="262" y="389.7">PD30</text></g>
<g id="a-MD10" class="c"><ellipse cx="160" cy="411" rx="18" ry="7"/><text x="160" y="413.7">MD10</text></g>
<g id="a-MD1" class="c"><ellipse cx="258" cy="413" rx="18" ry="7"/><text x="258" y="415.7">MD1</text></g>
<g id="a-MD20" class="c"><ellipse cx="264" cy="443" rx="18" ry="7"/><text x="264" y="445.7">MD20</text></g>
<g id="a-PA77" class="c"><ellipse cx="267" cy="472" rx="18" ry="7"/><text x="267" y="474.7">PA77</text></g>
<g id="a-PA66" class="c"><ellipse cx="160" cy="494" rx="18" ry="7"/><text x="160" y="496.7">PA66</text></g>
<g id="a-PD26" class="c"><ellipse cx="265" cy="518" rx="18" ry="7"/><text x="265" y="520.7">PD26</text></g>
<g id="a-PA75" class="c"><ellipse cx="163" cy="548" rx="18" ry="7"/><text x="163" y="550.7">PA75</text></g>
<g id="a-PDD94" class="c"><ellipse cx="262" cy="547" rx="18" ry="7"/><text x="262" y="549.7">PDD94</text></g>
<g id="a-MA55" class="c"><ellipse cx="164" cy="568" rx="18" ry="7"/><text x="164" y="570.7">MA55</text></g>
<g id="a-PA83" class="c"><ellipse cx="261" cy="566" rx="18" ry="7"/><text x="261" y="568.7">PA83</text></g>
<g id="a-PA54" class="c"><ellipse cx="127" cy="575" rx="18" ry="7"/><text x="127" y="577.7">PA54</text></g>
<g id="a-PA88" class="c"><ellipse cx="308" cy="573" rx="18" ry="7"/><text x="308" y="575.7">PA88</text></g>
<g id="a-PA51" class="c"><ellipse cx="160" cy="587" rx="18" ry="7"/><text x="160" y="589.7">PA51</text></g>
<g id="a-PA76" class="c"><ellipse cx="266" cy="587" rx="18" ry="7"/><text x="266" y="589.7">PA76</text></g>
<g id="a-PA91" class="c"><ellipse cx="308" cy="592" rx="18" ry="7"/><text x="308" y="594.7">PA91</text></g>
<g id="a-PA81" class="c"><ellipse cx="118" cy="600" rx="18" ry="7"/><text x="118" y="602.7">PA81</text></g>
<g id="a-PA57" class="c"><ellipse cx="267" cy="606" rx="18" ry="7"/><text x="267" y="608.7">PA57</text></g>
<g id="a-PA70" class="c"><ellipse cx="158" cy="610" rx="18" ry="7"/><text x="158" y="612.7">PA70</text></g>
<g id="a-PD19" class="c"><ellipse cx="117" cy="622" rx="18" ry="7"/><text x="117" y="624.7">PD19</text></g>
<g id="a-PA80" class="c"><ellipse cx="158" cy="628" rx="18" ry="7"/><text x="158" y="630.7">PA80</text></g>
<g id="a-PA90" class="c"><ellipse cx="263" cy="626" rx="18" ry="7"/><text x="263" y="628.7">PA90</text></g>
<g id="a-PA85-1" class="c"><ellipse cx="306" cy="622" rx="18" ry="7"/><text x="306" y="624.7">PA85</text></g>
<g id="a-PD44" class="c"><ellipse cx="313" cy="641" rx="18" ry="7"/><text x="313" y="643.7">PD44</text></g>
<g id="a-PA62" class="c"><ellipse cx="117" cy="639" rx="18" ry="7"/><text x="117" y="641.7">PA62</text></g>
<g id="a-PA64" class="c"><ellipse cx="157" cy="647" rx="18" ry="7"/><text x="157" y="649.7">PA64</text></g>
<g id="a-PA74" class="c"><ellipse cx="264" cy="644" rx="18" ry="7"/><text x="264" y="646.7">PA74</text></g>
<g id="a-PA61" class="c"><ellipse cx="117" cy="658" rx="18" ry="7"/><text x="117" y="660.7">PA61</text></g>
<g id="a-PA85-2" class="c"><ellipse cx="306" cy="661" rx="18" ry="7"/><text x="306" y="663.7">PA85</text></g>
<g id="a-PA50" class="c"><ellipse cx="155" cy="667" rx="18" ry="7"/><text x="155" y="669.7">PA50</text></g>
<g id="a-PA52" class="c"><ellipse cx="263" cy="669" rx="18" ry="7"/><text x="263" y="671.7">PA52</text></g>
<g id="a-PA58" class="c"><ellipse cx="120" cy="681" rx="18" ry="7"/><text x="120" y="683.7">PA58</text></g>
<g id="a-PA53" class="c"><ellipse cx="162" cy="689" rx="18" ry="7"/><text x="162" y="691.7">PA53</text></g>
<g id="a-PA89" class="c"><ellipse cx="207" cy="682" rx="18" ry="7"/><text x="207" y="684.7">PA89</text></g>
<g id="a-PD31" class="c"><ellipse cx="305" cy="681" rx="18" ry="7"/><text x="305" y="683.7">PD31</text></g>
<g id="a-PA63" class="c"><ellipse cx="266" cy="689" rx="18" ry="7"/><text x="266" y="691.7">PA63</text></g>
<g id="a-PA87" class="c"><ellipse cx="305" cy="699" rx="18" ry="7"/><text x="305" y="701.7">PA87</text></g>
<g id="a-PA78" class="c"><ellipse cx="214" cy="705" rx="18" ry="7"/><text x="214" y="707.7">PA78</text></g>

<!-- CRC1 mutations -->
<g id="a-APC" class="m"><rect x="192" y="351.5" width="36" height="17"/><text x="210" y="364.5" font-size="12.5">APC</text></g>
<g id="a-KRAS" class="m"><rect x="194" y="380" width="34" height="14"/><text x="211" y="391" font-size="10.5">KRAS</text></g>
<g id="a-TP53" class="m"><rect x="195" y="406.5" width="32" height="15"/><text x="211" y="418.5" font-size="12">TP53</text></g>
<g id="a-CCNE1" class="m"><rect x="193.5" y="433" width="35" height="14"/><text x="211" y="443.5" font-size="9.5">CCNE1</text></g>
<g id="a-FAT3" class="m"><rect x="195.5" y="463" width="31" height="14"/><text x="211" y="473.5" font-size="9.5">FAT3</text></g>
<g id="a-ROBO2" class="m"><rect x="193.5" y="489.5" width="35" height="15"/><text x="211" y="500.5" font-size="9.5">ROBO2</text></g>
<g id="a-MYH9" class="m"><rect x="195.5" y="518" width="31" height="14"/><text x="211" y="528.5" font-size="9.5">MYH9</text></g>
<g id="a-TDRP" class="m"><rect x="195.5" y="544" width="31" height="14"/><text x="211" y="554.5" font-size="9.5">TDRP</text></g>
<g id="a-TCF7L2" class="m"><rect x="193" y="572" width="36" height="12"/><text x="211" y="581" font-size="8.5">TCF7L2</text></g>
<g id="a-POU2AF1" class="m"><rect x="192" y="620" width="36" height="12"/><text x="210" y="628.7" font-size="7.5">POU2AF1</text></g>
<g id="a-TPM4" class="m"><rect x="189" y="651" width="34" height="14"/><text x="206" y="661.5" font-size="9.5">TPM4</text></g>

<!-- CRC1 metastasis -->
<g id="a-MA74" class="c"><ellipse cx="540" cy="653" rx="18" ry="7"/><text x="540" y="655.7">MA74</text></g>
<g id="a-MA53" class="c"><ellipse cx="440" cy="670" rx="18" ry="7"/><text x="440" y="672.7">MA53</text></g>
<g id="a-MA76" class="c"><ellipse cx="542" cy="672" rx="18" ry="7"/><text x="542" y="674.7">MA76</text></g>
<g id="a-MA49" class="c"><ellipse cx="438" cy="689" rx="18" ry="7"/><text x="438" y="691.7">MA49</text></g>
<g id="a-MA77" class="c"><ellipse cx="542" cy="692" rx="18" ry="7"/><text x="542" y="694.7">MA77</text></g>
<g id="a-MA58" class="c"><ellipse cx="438" cy="708" rx="18" ry="7"/><text x="438" y="710.7">MA58</text></g>
<g id="a-MA64" class="c"><ellipse cx="545" cy="709" rx="18" ry="7"/><text x="545" y="711.7">MA64</text></g>
<g id="a-MA75" class="c"><ellipse cx="442" cy="728" rx="18" ry="7"/><text x="442" y="730.7">MA75</text></g>
<g id="a-MA54" class="c"><ellipse cx="538" cy="737" rx="18" ry="7"/><text x="538" y="739.7">MA54</text></g>
<g id="a-MA68" class="c"><ellipse cx="435" cy="750" rx="18" ry="7"/><text x="435" y="752.7">MA68</text></g>
<g id="a-MA66" class="c"><ellipse cx="463" cy="765" rx="18" ry="7"/><text x="463" y="767.7">MA66</text></g>
<g id="a-MA73" class="c"><ellipse cx="537" cy="758" rx="18" ry="7"/><text x="537" y="760.7">MA73</text></g>
<g id="a-MA51" class="c"><ellipse cx="508" cy="767" rx="18" ry="7"/><text x="508" y="769.7">MA51</text></g>
<g id="a-MD7" class="c"><ellipse cx="428" cy="782" rx="18" ry="7"/><text x="428" y="784.7">MD7</text></g>
<g id="a-MA61" class="c"><ellipse cx="482" cy="783" rx="18" ry="7"/><text x="482" y="785.7">MA61</text></g>
<g id="a-MA62" class="c"><ellipse cx="547" cy="783" rx="18" ry="7"/><text x="547" y="785.7">MA62</text></g>
<g id="a-MA65" class="c"><ellipse cx="453" cy="795" rx="18" ry="7"/><text x="453" y="797.7">MA65</text></g>
<g id="a-MA57" class="c"><ellipse cx="518" cy="794" rx="18" ry="7"/><text x="518" y="796.7">MA57</text></g>
<g id="a-MA67" class="c"><ellipse cx="413" cy="803" rx="18" ry="7"/><text x="413" y="805.7">MA67</text></g>
<g id="a-MA69" class="c"><ellipse cx="480" cy="809" rx="18" ry="7"/><text x="480" y="811.7">MA69</text></g>
<g id="a-MA56" class="c"><ellipse cx="540" cy="811" rx="18" ry="7"/><text x="540" y="813.7">MA56</text></g>
<g id="a-MA59" class="c"><ellipse cx="448" cy="818" rx="18" ry="7"/><text x="448" y="820.7">MA59</text></g>
<g id="a-MA50" class="c"><ellipse cx="509" cy="823" rx="18" ry="7"/><text x="509" y="825.7">MA50</text></g>
<g id="a-MA52" class="c"><ellipse cx="478" cy="831" rx="18" ry="7"/><text x="478" y="833.7">MA52</text></g>
<g id="a-ZNF521" class="p"><rect x="468" y="619.5" width="37" height="13"/><text x="486.5" y="629.5" font-size="9">ZNF521</text></g>
<g id="a-EYS" class="p"><rect x="471.5" y="646.5" width="33" height="13"/><text x="488" y="657" font-size="10">EYS</text></g>
<g id="a-TRRAP" class="p"><rect x="471" y="675.5" width="34" height="13"/><text x="488" y="685.8" font-size="9.5">TRRAP</text></g>
<g id="a-RBFOX1" class="p"><rect x="468" y="703.5" width="39" height="13"/><text x="487.5" y="713.3" font-size="8.5">RBFOX1</text></g>
<g id="a-GATA1" class="p"><rect x="470.5" y="733" width="35" height="14"/><text x="488" y="743.5" font-size="9.5">GATA1</text></g>

<!-- ===== CRC2 cloud cells ===== -->
<g id="b-PDD61-1" class="c"><ellipse cx="907" cy="51" rx="18" ry="7"/><text x="907" y="53.7">PDD61</text></g>
<g id="b-MD4" class="c"><ellipse cx="940" cy="55" rx="18" ry="7"/><text x="940" y="57.7">MD4</text></g>
<g id="b-PDD38" class="c"><ellipse cx="868" cy="56" rx="18" ry="7"/><text x="868" y="58.7">PDD38</text></g>
<g id="b-PDD24" class="c"><ellipse cx="973" cy="61" rx="18" ry="7"/><text x="973" y="63.7">PDD24</text></g>
<g id="b-PDD44" class="c"><ellipse cx="843" cy="64" rx="18" ry="7"/><text x="843" y="66.7">PDD44</text></g>
<g id="b-PDD63-1" class="c"><ellipse cx="923" cy="64" rx="18" ry="7"/><text x="923" y="66.7">PDD63</text></g>
<g id="b-PDD85" class="c"><ellipse cx="887" cy="72" rx="18" ry="7"/><text x="887" y="74.7">PDD85</text></g>
<g id="b-PDD54" class="c"><ellipse cx="953" cy="73" rx="18" ry="7"/><text x="953" y="75.7">PDD54</text></g>
<g id="b-PDD42" class="c"><ellipse cx="998" cy="74" rx="18" ry="7"/><text x="998" y="76.7">PDD42</text></g>
<g id="b-PDD7" class="c"><ellipse cx="812" cy="77" rx="18" ry="7"/><text x="812" y="79.7">PDD7</text></g>
<g id="b-PDD36" class="c"><ellipse cx="858" cy="80" rx="18" ry="7"/><text x="858" y="82.7">PDD36</text></g>
<g id="b-PDD45" class="c"><ellipse cx="917" cy="82" rx="18" ry="7"/><text x="917" y="84.7">PDD45</text></g>
<g id="b-PDD28" class="c"><ellipse cx="977" cy="87" rx="18" ry="7"/><text x="977" y="89.7">PDD28</text></g>
<g id="b-PA54" class="c"><ellipse cx="1017" cy="85" rx="18" ry="7"/><text x="1017" y="87.7">PA54</text></g>
<g id="b-PDD35" class="c"><ellipse cx="793" cy="91" rx="18" ry="7"/><text x="793" y="93.7">PDD35</text></g>
<g id="b-PDD62" class="c"><ellipse cx="888" cy="91" rx="18" ry="7"/><text x="888" y="93.7">PDD62</text></g>
<g id="b-PDD88" class="c"><ellipse cx="831" cy="97" rx="18" ry="7"/><text x="831" y="99.7">PDD88</text></g>
<g id="b-PDD70" class="c"><ellipse cx="948" cy="100" rx="18" ry="7"/><text x="948" y="102.7">PDD70</text></g>
<g id="b-MA25" class="c"><ellipse cx="995" cy="98" rx="18" ry="7"/><text x="995" y="100.7">MA25</text></g>
<g id="b-PDD59" class="c"><ellipse cx="1038" cy="102" rx="18" ry="7"/><text x="1038" y="104.7">PDD59</text></g>
<g id="b-PDD40" class="c"><ellipse cx="873" cy="105" rx="18" ry="7"/><text x="873" y="107.7">PDD40</text></g>
<g id="b-PDD61-2" class="c"><ellipse cx="917" cy="102" rx="18" ry="7"/><text x="917" y="104.7">PDD61</text></g>
<g id="b-PDD68" class="c"><ellipse cx="782" cy="113" rx="18" ry="7"/><text x="782" y="115.7">PDD68</text></g>
<g id="b-PDD92" class="c"><ellipse cx="840" cy="114" rx="18" ry="7"/><text x="840" y="116.7">PDD92</text></g>
<g id="b-PDD32" class="c"><ellipse cx="978" cy="112" rx="18" ry="7"/><text x="978" y="114.7">PDD32</text></g>
<g id="b-PDD18" class="c"><ellipse cx="1015" cy="115" rx="18" ry="7"/><text x="1015" y="117.7">PDD18</text></g>
<g id="b-MD5" class="c"><ellipse cx="908" cy="119" rx="18" ry="7"/><text x="908" y="121.7">MD5</text></g>
<g id="b-PDD81" class="c"><ellipse cx="945" cy="117" rx="18" ry="7"/><text x="945" y="119.7">PDD81</text></g>
<g id="b-PDD25" class="c"><ellipse cx="1050" cy="118" rx="18" ry="7"/><text x="1050" y="120.7">PDD25</text></g>
<g id="b-PDD58" class="c"><ellipse cx="775" cy="130" rx="18" ry="7"/><text x="775" y="132.7">PDD58</text></g>
<g id="b-PDD79" class="c"><ellipse cx="810" cy="127" rx="18" ry="7"/><text x="810" y="129.7">PDD79</text></g>
<g id="b-PDD82" class="c"><ellipse cx="873" cy="125" rx="18" ry="7"/><text x="873" y="127.7">PDD82</text></g>
<g id="b-PDD84" class="c"><ellipse cx="842" cy="132" rx="18" ry="7"/><text x="842" y="134.7">PDD84</text></g>
<g id="b-PDD47" class="c"><ellipse cx="977" cy="129" rx="18" ry="7"/><text x="977" y="131.7">PDD47</text></g>
<g id="b-PDD43" class="c"><ellipse cx="1013" cy="131" rx="18" ry="7"/><text x="1013" y="133.7">PDD43</text></g>
<g id="b-PDD93" class="c"><ellipse cx="1052" cy="135" rx="18" ry="7"/><text x="1052" y="137.7">PDD93</text></g>
<g id="b-PDD37" class="c"><ellipse cx="777" cy="148" rx="18" ry="7"/><text x="777" y="150.7">PDD37</text></g>
<g id="b-MD7" class="c"><ellipse cx="808" cy="144" rx="18" ry="7"/><text x="808" y="146.7">MD7</text></g>
<g id="b-PDD71" class="c"><ellipse cx="868" cy="142" rx="18" ry="7"/><text x="868" y="144.7">PDD71</text></g>
<g id="b-PDD80" class="c"><ellipse cx="903" cy="139" rx="18" ry="7"/><text x="903" y="141.7">PDD80</text></g>
<g id="b-PDD60" class="c"><ellipse cx="940" cy="137" rx="18" ry="7"/><text x="940" y="139.7">PDD60</text></g>
<g id="b-PDD5" class="c"><ellipse cx="977" cy="144" rx="18" ry="7"/><text x="977" y="146.7">PDD5</text></g>
<g id="b-PDD20" class="c"><ellipse cx="1015" cy="148" rx="18" ry="7"/><text x="1015" y="150.7">PDD20</text></g>
<g id="b-PDD39" class="c"><ellipse cx="1045" cy="153" rx="18" ry="7"/><text x="1045" y="155.7">PDD39</text></g>
<g id="b-PDD94" class="c"><ellipse cx="838" cy="154" rx="18" ry="7"/><text x="838" y="156.7">PDD94</text></g>
<g id="b-PDD19" class="c"><ellipse cx="903" cy="157" rx="18" ry="7"/><text x="903" y="159.7">PDD19</text></g>
<g id="b-MD8" class="c"><ellipse cx="940" cy="157" rx="18" ry="7"/><text x="940" y="159.7">MD8</text></g>
<g id="b-PDD63-2" class="c"><ellipse cx="977" cy="163" rx="18" ry="7"/><text x="977" y="165.7">PDD63</text></g>
<g id="b-PDD77" class="c"><ellipse cx="1013" cy="163" rx="18" ry="7"/><text x="1013" y="165.7">PDD77</text></g>
<g id="b-PDD53" class="c"><ellipse cx="777" cy="167" rx="18" ry="7"/><text x="777" y="169.7">PDD53</text></g>
<g id="b-PDD95" class="c"><ellipse cx="810" cy="165" rx="18" ry="7"/><text x="810" y="167.7">PDD95</text></g>
<g id="b-PDD22" class="c"><ellipse cx="868" cy="161" rx="18" ry="7"/><text x="868" y="163.7">PDD22</text></g>
<g id="b-PDD46" class="c"><ellipse cx="842" cy="175" rx="18" ry="7"/><text x="842" y="177.7">PDD46</text></g>
<g id="b-PDD55" class="c"><ellipse cx="975" cy="179" rx="18" ry="7"/><text x="975" y="181.7">PDD55</text></g>
<g id="b-PDD56" class="c"><ellipse cx="1012" cy="179" rx="18" ry="7"/><text x="1012" y="181.7">PDD56</text></g>
<g id="b-PDD17" class="c"><ellipse cx="872" cy="182" rx="18" ry="7"/><text x="872" y="184.7">PDD17</text></g>
<g id="b-PDD72" class="c"><ellipse cx="932" cy="189" rx="18" ry="7"/><text x="932" y="191.7">PDD72</text></g>
<g id="b-PDD6" class="c"><ellipse cx="772" cy="184" rx="18" ry="7"/><text x="772" y="186.7">PDD6</text></g>
<g id="b-PDD30" class="c"><ellipse cx="810" cy="184" rx="18" ry="7"/><text x="810" y="186.7">PDD30</text></g>
<g id="b-PDD91" class="c"><ellipse cx="843" cy="193" rx="18" ry="7"/><text x="843" y="195.7">PDD91</text></g>
<g id="b-PDD1" class="c"><ellipse cx="955" cy="194" rx="18" ry="7"/><text x="955" y="196.7">PDD1</text></g>
<g id="b-PDD86" class="c"><ellipse cx="1015" cy="198" rx="18" ry="7"/><text x="1015" y="200.7">PDD86</text></g>
<g id="b-PDD90" class="c"><ellipse cx="775" cy="204" rx="18" ry="7"/><text x="775" y="206.7">PDD90</text></g>
<g id="b-MD11" class="c"><ellipse cx="817" cy="210" rx="18" ry="7"/><text x="817" y="212.7">MD11</text></g>
<g id="b-PD7" class="c"><ellipse cx="878" cy="203" rx="18" ry="7"/><text x="878" y="205.7">PD7</text></g>
<g id="b-PDD64" class="c"><ellipse cx="917" cy="207" rx="18" ry="7"/><text x="917" y="209.7">PDD64</text></g>
<g id="b-MA26" class="c"><ellipse cx="955" cy="211" rx="18" ry="7"/><text x="955" y="213.7">MA26</text></g>
<g id="b-PDD76" class="c"><ellipse cx="992" cy="208" rx="18" ry="7"/><text x="992" y="210.7">PDD76</text></g>
<g id="b-PDD89" class="c"><ellipse cx="850" cy="215" rx="18" ry="7"/><text x="850" y="217.7">PDD89</text></g>
<g id="b-PDD52" class="c"><ellipse cx="1010" cy="222" rx="18" ry="7"/><text x="1010" y="224.7">PDD52</text></g>
<g id="b-PDD23" class="c"><ellipse cx="790" cy="225" rx="18" ry="7"/><text x="790" y="227.7">PDD23</text></g>
<g id="b-PDD69" class="c"><ellipse cx="885" cy="222" rx="18" ry="7"/><text x="885" y="224.7">PDD69</text></g>
<g id="b-MD13" class="c"><ellipse cx="923" cy="222" rx="18" ry="7"/><text x="923" y="224.7">MD13</text></g>
<g id="b-PDD51" class="c"><ellipse cx="830" cy="229" rx="18" ry="7"/><text x="830" y="231.7">PDD51</text></g>
<g id="b-PDD78" class="c"><ellipse cx="858" cy="233" rx="18" ry="7"/><text x="858" y="235.7">PDD78</text></g>
<g id="b-PDD87" class="c"><ellipse cx="957" cy="231" rx="18" ry="7"/><text x="957" y="233.7">PDD87</text></g>
<g id="b-PDD41" class="c"><ellipse cx="988" cy="226" rx="18" ry="7"/><text x="988" y="228.7">PDD41</text></g>
<g id="b-PDD49" class="c"><ellipse cx="798" cy="243" rx="18" ry="7"/><text x="798" y="245.7">PDD49</text></g>
<g id="b-PDD33" class="c"><ellipse cx="913" cy="237" rx="18" ry="7"/><text x="913" y="239.7">PDD33</text></g>
<g id="b-MD10" class="c"><ellipse cx="969" cy="242" rx="18" ry="7"/><text x="969" y="244.7">MD10</text></g>
<g id="b-PDD2" class="c"><ellipse cx="1009" cy="249" rx="18" ry="7"/><text x="1009" y="251.7">PDD2</text></g>
<g id="b-PDD26" class="c"><ellipse cx="838" cy="247" rx="18" ry="7"/><text x="838" y="249.7">PDD26</text></g>
<g id="b-PDD50" class="c"><ellipse cx="813" cy="260" rx="18" ry="7"/><text x="813" y="262.7">PDD50</text></g>
<g id="b-PDD27" class="c"><ellipse cx="868" cy="255" rx="18" ry="7"/><text x="868" y="257.7">PDD27</text></g>
<g id="b-PDD73" class="c"><ellipse cx="908" cy="255" rx="18" ry="7"/><text x="908" y="257.7">PDD73</text></g>
<g id="b-PDD34" class="c"><ellipse cx="943" cy="252" rx="18" ry="7"/><text x="943" y="254.7">PDD34</text></g>
<g id="b-PDD65" class="c"><ellipse cx="992" cy="263" rx="18" ry="7"/><text x="992" y="265.7">PDD65</text></g>
<g id="b-PDD74" class="c"><ellipse cx="1027" cy="268" rx="18" ry="7"/><text x="1027" y="270.7">PDD74</text></g>
<g id="b-PDD16" class="c"><ellipse cx="839" cy="277" rx="18" ry="7"/><text x="839" y="279.7">PDD16</text></g>
<g id="b-PDD3" class="c"><ellipse cx="873" cy="274" rx="18" ry="7"/><text x="873" y="276.7">PDD3</text></g>
<g id="b-PDD48" class="c"><ellipse cx="897" cy="274" rx="18" ry="7"/><text x="897" y="276.7">PDD48</text></g>
<g id="b-PDD66" class="c"><ellipse cx="917" cy="282" rx="18" ry="7"/><text x="917" y="284.7">PDD66</text></g>
<g id="b-PDD9" class="c"><ellipse cx="952" cy="273" rx="18" ry="7"/><text x="952" y="275.7">PDD9</text></g>
<g id="b-PDD31" class="c"><ellipse cx="998" cy="281" rx="18" ry="7"/><text x="998" y="283.7">PDD31</text></g>
<g id="b-PDD8" class="c"><ellipse cx="860" cy="290" rx="18" ry="7"/><text x="860" y="292.7">PDD8</text></g>
<g id="b-PDD4" class="c"><ellipse cx="885" cy="296" rx="18" ry="7"/><text x="885" y="298.7">PDD4</text></g>
<g id="b-PDD57" class="c"><ellipse cx="908" cy="298" rx="18" ry="7"/><text x="908" y="300.7">PDD57</text></g>
<g id="b-PDD75" class="c"><ellipse cx="932" cy="297" rx="18" ry="7"/><text x="932" y="299.7">PDD75</text></g>
<g id="b-MD9" class="c"><ellipse cx="978" cy="288" rx="18" ry="7"/><text x="978" y="290.7">MD9</text></g>

<g id="b-Zygote" class="z"><rect x="886" y="180" width="32" height="14"/><text x="902" y="190.5">Zygote</text></g>

<!-- CIITA -->
<g id="b-PDD14" class="c"><ellipse cx="1043" cy="187" rx="18" ry="7"/><text x="1043" y="189.7">PDD14</text></g>
<g id="b-PDD11" class="c"><ellipse cx="1088" cy="193" rx="18" ry="7"/><text x="1088" y="195.7">PDD11</text></g>
<g id="b-PDD12" class="c"><ellipse cx="1092" cy="213" rx="18" ry="7"/><text x="1092" y="215.7">PDD12</text></g>
<g id="b-PDD15" class="c"><ellipse cx="1088" cy="231" rx="18" ry="7"/><text x="1088" y="233.7">PDD15</text></g>
<g id="b-PDD13" class="c"><ellipse cx="1063" cy="241" rx="18" ry="7"/><text x="1063" y="243.7">PDD13</text></g>
<g id="b-PDD10" class="c"><ellipse cx="1030" cy="238" rx="18" ry="7"/><text x="1030" y="240.7">PDD10</text></g>
<g id="b-CIITA" class="m"><rect x="1028.5" y="206" width="35" height="14"/><text x="1046" y="216.5" font-size="9.5">CIITA</text></g>

<!-- independent lineage -->
<g id="b-PD14" class="c"><ellipse cx="600" cy="193" rx="18" ry="7"/><text x="600" y="195.7">PD14</text></g>
<g id="b-PD5" class="c"><ellipse cx="683" cy="204" rx="18" ry="7"/><text x="683" y="206.7">PD5</text></g>
<g id="b-PD8" class="c"><ellipse cx="687" cy="223" rx="18" ry="7"/><text x="687" y="225.7">PD8</text></g>
<g id="b-PD20" class="c"><ellipse cx="597" cy="237" rx="18" ry="7"/><text x="597" y="239.7">PD20</text></g>
<g id="b-PD9" class="c"><ellipse cx="685" cy="267" rx="18" ry="7"/><text x="685" y="269.7">PD9</text></g>
<g id="b-PD17" class="c"><ellipse cx="598" cy="283" rx="18" ry="7"/><text x="598" y="285.7">PD17</text></g>
<g id="b-PD16" class="c"><ellipse cx="688" cy="290" rx="18" ry="7"/><text x="688" y="292.7">PD16</text></g>
<g id="b-PD18" class="c"><ellipse cx="610" cy="306" rx="18" ry="7"/><text x="610" y="308.7">PD18</text></g>
<g id="b-PD1" class="c"><ellipse cx="693" cy="308" rx="18" ry="7"/><text x="693" y="310.7">PD1</text></g>
<g id="b-ALK" class="v"><rect x="630" y="189" width="32" height="14"/><text x="646" y="199.6" font-size="10">ALK</text></g>
<g id="b-ATR" class="v"><rect x="630" y="213" width="32" height="14"/><text x="646" y="223.6" font-size="10">ATR</text></g>
<g id="b-EPHB6" class="v"><rect x="630" y="236" width="32" height="14"/><text x="646" y="246.2" font-size="8.5">EPHB6</text></g>
<g id="b-NR302" class="v"><rect x="628.5" y="261" width="34" height="14"/><text x="645.5" y="271.4" font-size="9.5">NR302</text></g>
<g id="b-SPEN" class="v"><rect x="630" y="283" width="32" height="14"/><text x="646" y="293.5" font-size="9.5">SPEN</text></g>

<!-- CRC2 chain cells -->
<g id="b-MD3" class="c"><ellipse cx="952" cy="346" rx="18" ry="7"/><text x="952" y="348.7">MD3</text></g>
<g id="b-MD12" class="c"><ellipse cx="952" cy="372" rx="18" ry="7"/><text x="952" y="374.7">MD12</text></g>
<g id="b-PA27" class="c"><ellipse cx="957" cy="400" rx="18" ry="7"/><text x="957" y="402.7">PA27</text></g>
<g id="b-MA92" class="c"><ellipse cx="863" cy="477" rx="18" ry="7"/><text x="863" y="479.7">MA92</text></g>
<g id="b-PA32" class="c"><ellipse cx="958" cy="479" rx="18" ry="7"/><text x="958" y="481.7">PA32</text></g>
<g id="b-PA77" class="c"><ellipse cx="958" cy="502" rx="18" ry="7"/><text x="958" y="504.7">PA77</text></g>
<g id="b-MA44" class="c"><ellipse cx="863" cy="532" rx="18" ry="7"/><text x="863" y="534.7">MA44</text></g>
<g id="b-MA39" class="c"><ellipse cx="957" cy="530" rx="18" ry="7"/><text x="957" y="532.7">MA39</text></g>
<g id="b-MA42" class="c"><ellipse cx="863" cy="552" rx="18" ry="7"/><text x="863" y="554.7">MA42</text></g>
<g id="b-PA43" class="c"><ellipse cx="960" cy="559" rx="18" ry="7"/><text x="960" y="561.7">PA43</text></g>
<g id="b-PA55" class="c"><ellipse cx="863" cy="573" rx="18" ry="7"/><text x="863" y="575.7">PA55</text></g>
<g id="b-PA52" class="c"><ellipse cx="963" cy="587" rx="18" ry="7"/><text x="963" y="589.7">PA52</text></g>
<g id="b-PA49" class="c"><ellipse cx="865" cy="603" rx="18" ry="7"/><text x="865" y="605.7">PA49</text></g>
<g id="b-MA41" class="c"><ellipse cx="967" cy="607" rx="18" ry="7"/><text x="967" y="609.7">MA41</text></g>
<g id="b-PA71" class="c"><ellipse cx="865" cy="621" rx="18" ry="7"/><text x="865" y="623.7">PA71</text></g>
<g id="b-PA46" class="c"><ellipse cx="968" cy="623" rx="18" ry="7"/><text x="968" y="625.7">PA46</text></g>
<g id="b-PA51" class="c"><ellipse cx="867" cy="638" rx="18" ry="7"/><text x="867" y="640.7">PA51</text></g>
<g id="b-PA74" class="c"><ellipse cx="967" cy="643" rx="18" ry="7"/><text x="967" y="645.7">PA74</text></g>
<g id="b-PA73" class="c"><ellipse cx="870" cy="654" rx="18" ry="7"/><text x="870" y="656.7">PA73</text></g>
<g id="b-PA63" class="c"><ellipse cx="967" cy="662" rx="18" ry="7"/><text x="967" y="664.7">PA63</text></g>
<g id="b-PA48" class="c"><ellipse cx="869" cy="673" rx="18" ry="7"/><text x="869" y="675.7">PA48</text></g>
<g id="b-PA40" class="c"><ellipse cx="966" cy="683" rx="18" ry="7"/><text x="966" y="685.7">PA40</text></g>
<g id="b-PA59" class="c"><ellipse cx="873" cy="705" rx="18" ry="7"/><text x="873" y="707.7">PA59</text></g>
<g id="b-PA42" class="c"><ellipse cx="967" cy="703" rx="18" ry="7"/><text x="967" y="705.7">PA42</text></g>
<g id="b-PA29" class="c"><ellipse cx="873" cy="724" rx="18" ry="7"/><text x="873" y="726.7">PA29</text></g>
<g id="b-PA64" class="c"><ellipse cx="964" cy="721" rx="18" ry="7"/><text x="964" y="723.7">PA64</text></g>
<g id="b-PA53" class="c"><ellipse cx="872" cy="740" rx="18" ry="7"/><text x="872" y="742.7">PA53</text></g>
<g id="b-PA62" class="c"><ellipse cx="965" cy="743" rx="18" ry="7"/><text x="965" y="745.7">PA62</text></g>
<g id="b-PA57" class="c"><ellipse cx="870" cy="759" rx="18" ry="7"/><text x="870" y="761.7">PA57</text></g>
<g id="b-PA41" class="c"><ellipse cx="900" cy="767" rx="18" ry="7"/><text x="900" y="769.7">PA41</text></g>
<g id="b-PA38" class="c"><ellipse cx="937" cy="766" rx="18" ry="7"/><text x="937" y="768.7">PA38</text></g>
<g id="b-PA61" class="c"><ellipse cx="968" cy="764" rx="18" ry="7"/><text x="968" y="766.7">PA61</text></g>
<g id="b-PA26" class="c"><ellipse cx="843" cy="778" rx="18" ry="7"/><text x="843" y="780.7">PA26</text></g>
<g id="b-PA70" class="c"><ellipse cx="880" cy="783" rx="18" ry="7"/><text x="880" y="785.7">PA70</text></g>
<g id="b-PA39" class="c"><ellipse cx="917" cy="782" rx="18" ry="7"/><text x="917" y="784.7">PA39</text></g>
<g id="b-PA68" class="c"><ellipse cx="950" cy="781" rx="18" ry="7"/><text x="950" y="783.7">PA68</text></g>
<g id="b-PA47" class="c"><ellipse cx="865" cy="802" rx="18" ry="7"/><text x="865" y="804.7">PA47</text></g>
<g id="b-PA65" class="c"><ellipse cx="895" cy="802" rx="18" ry="7"/><text x="895" y="804.7">PA65</text></g>
<g id="b-PA28" class="c"><ellipse cx="928" cy="805" rx="18" ry="7"/><text x="928" y="807.7">PA28</text></g>
<g id="b-PA58" class="c"><ellipse cx="965" cy="800" rx="18" ry="7"/><text x="965" y="802.7">PA58</text></g>

<!-- CRC2 mutations -->
<g id="b-TP53" class="m"><rect x="892" y="339" width="30" height="14"/><text x="907" y="349.5" font-size="9.5">TP53</text></g>
<g id="b-TOX" class="m"><rect x="892" y="365.5" width="30" height="13"/><text x="907" y="375.5" font-size="9.5">TOX</text></g>
<g id="b-APC.1" class="m"><rect x="894" y="394" width="32" height="12"/><text x="910" y="403.2" font-size="9">APC.1</text></g>
<g id="b-LINGO2.1" class="m"><rect x="893.5" y="421.5" width="33" height="13"/><text x="910" y="430" font-size="6">LINGO2.1</text></g>
<g id="b-NRAS" class="m"><rect x="894" y="445.5" width="32" height="13"/><text x="910" y="455.3" font-size="9">NRAS</text></g>
<g id="b-IL21R" class="m"><rect x="895" y="472" width="32" height="12"/><text x="911" y="481.3" font-size="9">IL21R</text></g>
<g id="b-CDK4" class="m"><rect x="897" y="496.5" width="30" height="13"/><text x="912" y="506.5" font-size="9.5">CDK4</text></g>
<g id="b-MYH11" class="m"><rect x="898" y="523.5" width="32" height="13"/><text x="914" y="533.3" font-size="9">MYH11</text></g>
<g id="b-STRN" class="m"><rect x="900" y="548" width="30" height="14"/><text x="915" y="558.5" font-size="9.5">STRN</text></g>
<g id="b-MN1" class="m"><rect x="901.5" y="582" width="33" height="12"/><text x="918" y="591.4" font-size="9.5">MN1</text></g>
<g id="b-CHN1" class="m"><rect x="903" y="605" width="32" height="14"/><text x="919" y="615.5" font-size="9.5">CHN1</text></g>
<g id="b-FHIT" class="m"><rect x="903" y="633.5" width="32" height="13"/><text x="919" y="643.7" font-size="10">FHIT</text></g>
<g id="b-APC.2" class="m"><rect x="903" y="655.5" width="32" height="13"/><text x="919" y="665.5" font-size="9.5">APC.2</text></g>
<g id="b-ATP7B" class="m"><rect x="903" y="680.5" width="34" height="15"/><text x="920" y="691.5" font-size="9.5">ATP7B</text></g>
<g id="b-LINGO2.5" class="m"><rect x="902.5" y="707.5" width="37" height="11"/><text x="921" y="715" font-size="6">LINGO2.5</text></g>
<g id="b-UAP1B" class="m"><rect x="901.5" y="740.5" width="31" height="15"/><text x="917" y="751.5" font-size="10">UAP1B</text></g>

<!-- first metastasis -->
<g id="b-MA48" class="c"><ellipse cx="1207" cy="580" rx="18" ry="7"/><text x="1207" y="582.7">MA48</text></g>
<g id="b-MA94" class="c"><ellipse cx="1207" cy="602" rx="18" ry="7"/><text x="1207" y="604.7">MA94</text></g>
<g id="b-MA88" class="c"><ellipse cx="1115" cy="608" rx="18" ry="7"/><text x="1115" y="610.7">MA88</text></g>
<g id="b-MA27" class="c"><ellipse cx="1077" cy="622" rx="18" ry="7"/><text x="1077" y="624.7">MA27</text></g>
<g id="b-MA29" class="c"><ellipse cx="1118" cy="628" rx="18" ry="7"/><text x="1118" y="630.7">MA29</text></g>
<g id="b-MA37" class="c"><ellipse cx="1117" cy="655" rx="18" ry="7"/><text x="1117" y="657.7">MA37</text></g>
<g id="b-MA45" class="c"><ellipse cx="1118" cy="678" rx="18" ry="7"/><text x="1118" y="680.7">MA45</text></g>
<g id="b-MA40" class="c"><ellipse cx="1257" cy="653" rx="18" ry="7"/><text x="1257" y="655.7">MA40</text></g>
<g id="b-MA90" class="c"><ellipse cx="1261" cy="687" rx="18" ry="7"/><text x="1261" y="689.7">MA90</text></g>
<g id="b-MA91" class="c"><ellipse cx="1261" cy="708" rx="18" ry="7"/><text x="1261" y="710.7">MA91</text></g>
<g id="b-MA85" class="c"><ellipse cx="1168" cy="731" rx="18" ry="7"/><text x="1168" y="733.7">MA85</text></g>
<g id="b-MA28" class="c"><ellipse cx="1259" cy="735" rx="18" ry="7"/><text x="1259" y="737.7">MA28</text></g>
<g id="b-MA86" class="c"><ellipse cx="1258" cy="758" rx="18" ry="7"/><text x="1258" y="760.7">MA86</text></g>
<g id="b-MA35" class="c"><ellipse cx="1253" cy="775" rx="18" ry="7"/><text x="1253" y="777.7">MA35</text></g>
<g id="b-MA33" class="c"><ellipse cx="1215" cy="785" rx="18" ry="7"/><text x="1215" y="787.7">MA33</text></g>
<g id="b-LINGO2.2" class="p"><rect x="1146.5" y="597.5" width="33" height="11"/><text x="1163" y="605" font-size="6">LINGO2.2</text></g>
<g id="b-LINGO2.3" class="p"><rect x="1149.5" y="622.5" width="33" height="13"/><text x="1166" y="631" font-size="6">LINGO2.3</text></g>
<g id="b-IL7R" class="p"><rect x="1148" y="649.5" width="32" height="15"/><text x="1164" y="660.8" font-size="10.5">IL7R</text></g>
<g id="b-PIK3CG" class="p"><rect x="1196.5" y="617.5" width="33" height="15"/><text x="1213" y="627.5" font-size="7.5">PIK3CG</text></g>
<g id="b-LAMB4" class="p"><rect x="1196.5" y="644.5" width="33" height="13"/><text x="1213" y="654.3" font-size="9">LAMB4</text></g>
<g id="b-LINGO2.4" class="p"><rect x="1198" y="672.5" width="32" height="13"/><text x="1214" y="681" font-size="6">LINGO2.4</text></g>
<g id="b-SPEN.2" class="p"><rect x="1198" y="698" width="32" height="14"/><text x="1214" y="708.3" font-size="9">SPEN.2</text></g>
<g id="b-F8" class="p"><rect x="1200" y="726.5" width="32" height="13"/><text x="1216" y="736.7" font-size="10">F8</text></g>
<g id="b-PTPRD" class="p"><rect x="1199" y="753" width="34" height="14"/><text x="1216" y="763.3" font-size="9">PTPRD</text></g>

<!-- second metastasis -->
<g id="b-MA32" class="c"><ellipse cx="1213" cy="826" rx="18" ry="7"/><text x="1213" y="828.7">MA32</text></g>
<g id="b-MA47" class="c"><ellipse cx="1125" cy="845" rx="18" ry="7"/><text x="1125" y="847.7">MA47</text></g>
<g id="b-MA95" class="c"><ellipse cx="1215" cy="847" rx="18" ry="7"/><text x="1215" y="849.7">MA95</text></g>
<g id="b-MA34" class="c"><ellipse cx="1125" cy="864" rx="18" ry="7"/><text x="1125" y="866.7">MA34</text></g>
<g id="b-MA31" class="c"><ellipse cx="1215" cy="865" rx="18" ry="7"/><text x="1215" y="867.7">MA31</text></g>
<g id="b-MA89" class="c"><ellipse cx="1122" cy="881" rx="18" ry="7"/><text x="1122" y="883.7">MA89</text></g>
<g id="b-MA87" class="c"><ellipse cx="1213" cy="883" rx="18" ry="7"/><text x="1213" y="885.7">MA87</text></g>
<g id="b-MA93" class="c"><ellipse cx="1123" cy="900" rx="18" ry="7"/><text x="1123" y="902.7">MA93</text></g>
<g id="b-MA46" class="c"><ellipse cx="1217" cy="903" rx="18" ry="7"/><text x="1217" y="905.7">MA46</text></g>
<g id="b-MA30" class="c"><ellipse cx="1123" cy="918" rx="18" ry="7"/><text x="1123" y="920.7">MA30</text></g>
<g id="b-MA38" class="c"><ellipse cx="1218" cy="920" rx="18" ry="7"/><text x="1218" y="922.7">MA38</text></g>
<g id="b-MA43" class="c"><ellipse cx="1125" cy="937" rx="18" ry="7"/><text x="1125" y="939.7">MA43</text></g>
<g id="b-MA36" class="c"><ellipse cx="1227" cy="943" rx="18" ry="7"/><text x="1227" y="945.7">MA36</text></g>
<g id="b-NR4A3" class="o"><rect x="1154.5" y="819.5" width="35" height="13"/><text x="1172" y="829.3" font-size="9">NR4A3</text></g>
<g id="b-FUS" class="o"><rect x="1154.5" y="844.5" width="35" height="13"/><text x="1172" y="854.7" font-size="10">FUS</text></g>
<g id="b-PAKCB" class="o"><rect x="1154.5" y="873.5" width="35" height="13"/><text x="1172" y="883.5" font-size="9.5">PAKCB</text></g>
<g id="b-HELZ" class="o"><rect x="1157.5" y="893" width="31" height="14"/><text x="1173" y="903.6" font-size="10">HELZ</text></g>
<g id="b-TSHZ3" class="o"><rect x="1156.5" y="920.5" width="35" height="13"/><text x="1174" y="930.3" font-size="9">TSHZ3</text></g>

<!-- labels -->
<g id="labels">
<text x="6" y="25" font-family="Liberation Sans, Arial, sans-serif" font-size="20" font-weight="bold" fill="#111">A</text>
<text x="127" y="27" class="lab">Patient CRC1</text>
<text x="560" y="25" font-family="Liberation Sans, Arial, sans-serif" font-size="20" font-weight="bold" fill="#111">B</text>
<text x="828" y="27" class="lab">Patient CRC2</text>
<text x="392" y="186" class="lab">normal</text>
<text x="392" y="218" class="lab">tissue</text>
<text x="304" y="420" class="lab">primary</text>
<text x="304" y="450" class="lab">tumor</text>
<text x="427" y="603" class="lab">metastasis</text>
<text x="581" y="353" class="lab">independent</text>
<text x="614" y="384" class="lab">lineage</text>
<text x="1118" y="180" class="lab">normal</text>
<text x="1120" y="211" class="lab">tissue</text>
<text x="738" y="482" class="lab">primary</text>
<text x="757" y="514" class="lab">tumor</text>
<text x="1090" y="555" class="lab">first metastasis</text>
<text x="1040" y="910" class="lab" text-anchor="middle">second</text>
<text x="1040" y="942" class="lab" text-anchor="middle">metastasis</text>
</g>

<!-- legend -->
<g id="legend">
<ellipse cx="33" cy="869" rx="19" ry="8" fill="#ababab"/>
<text x="60" y="876" class="leg">single cells</text>
<rect x="14" y="892" width="39" height="18" rx="3" fill="#4a90d9"/>
<text x="62" y="908" class="leg">mutations</text>
</g>
</svg>
